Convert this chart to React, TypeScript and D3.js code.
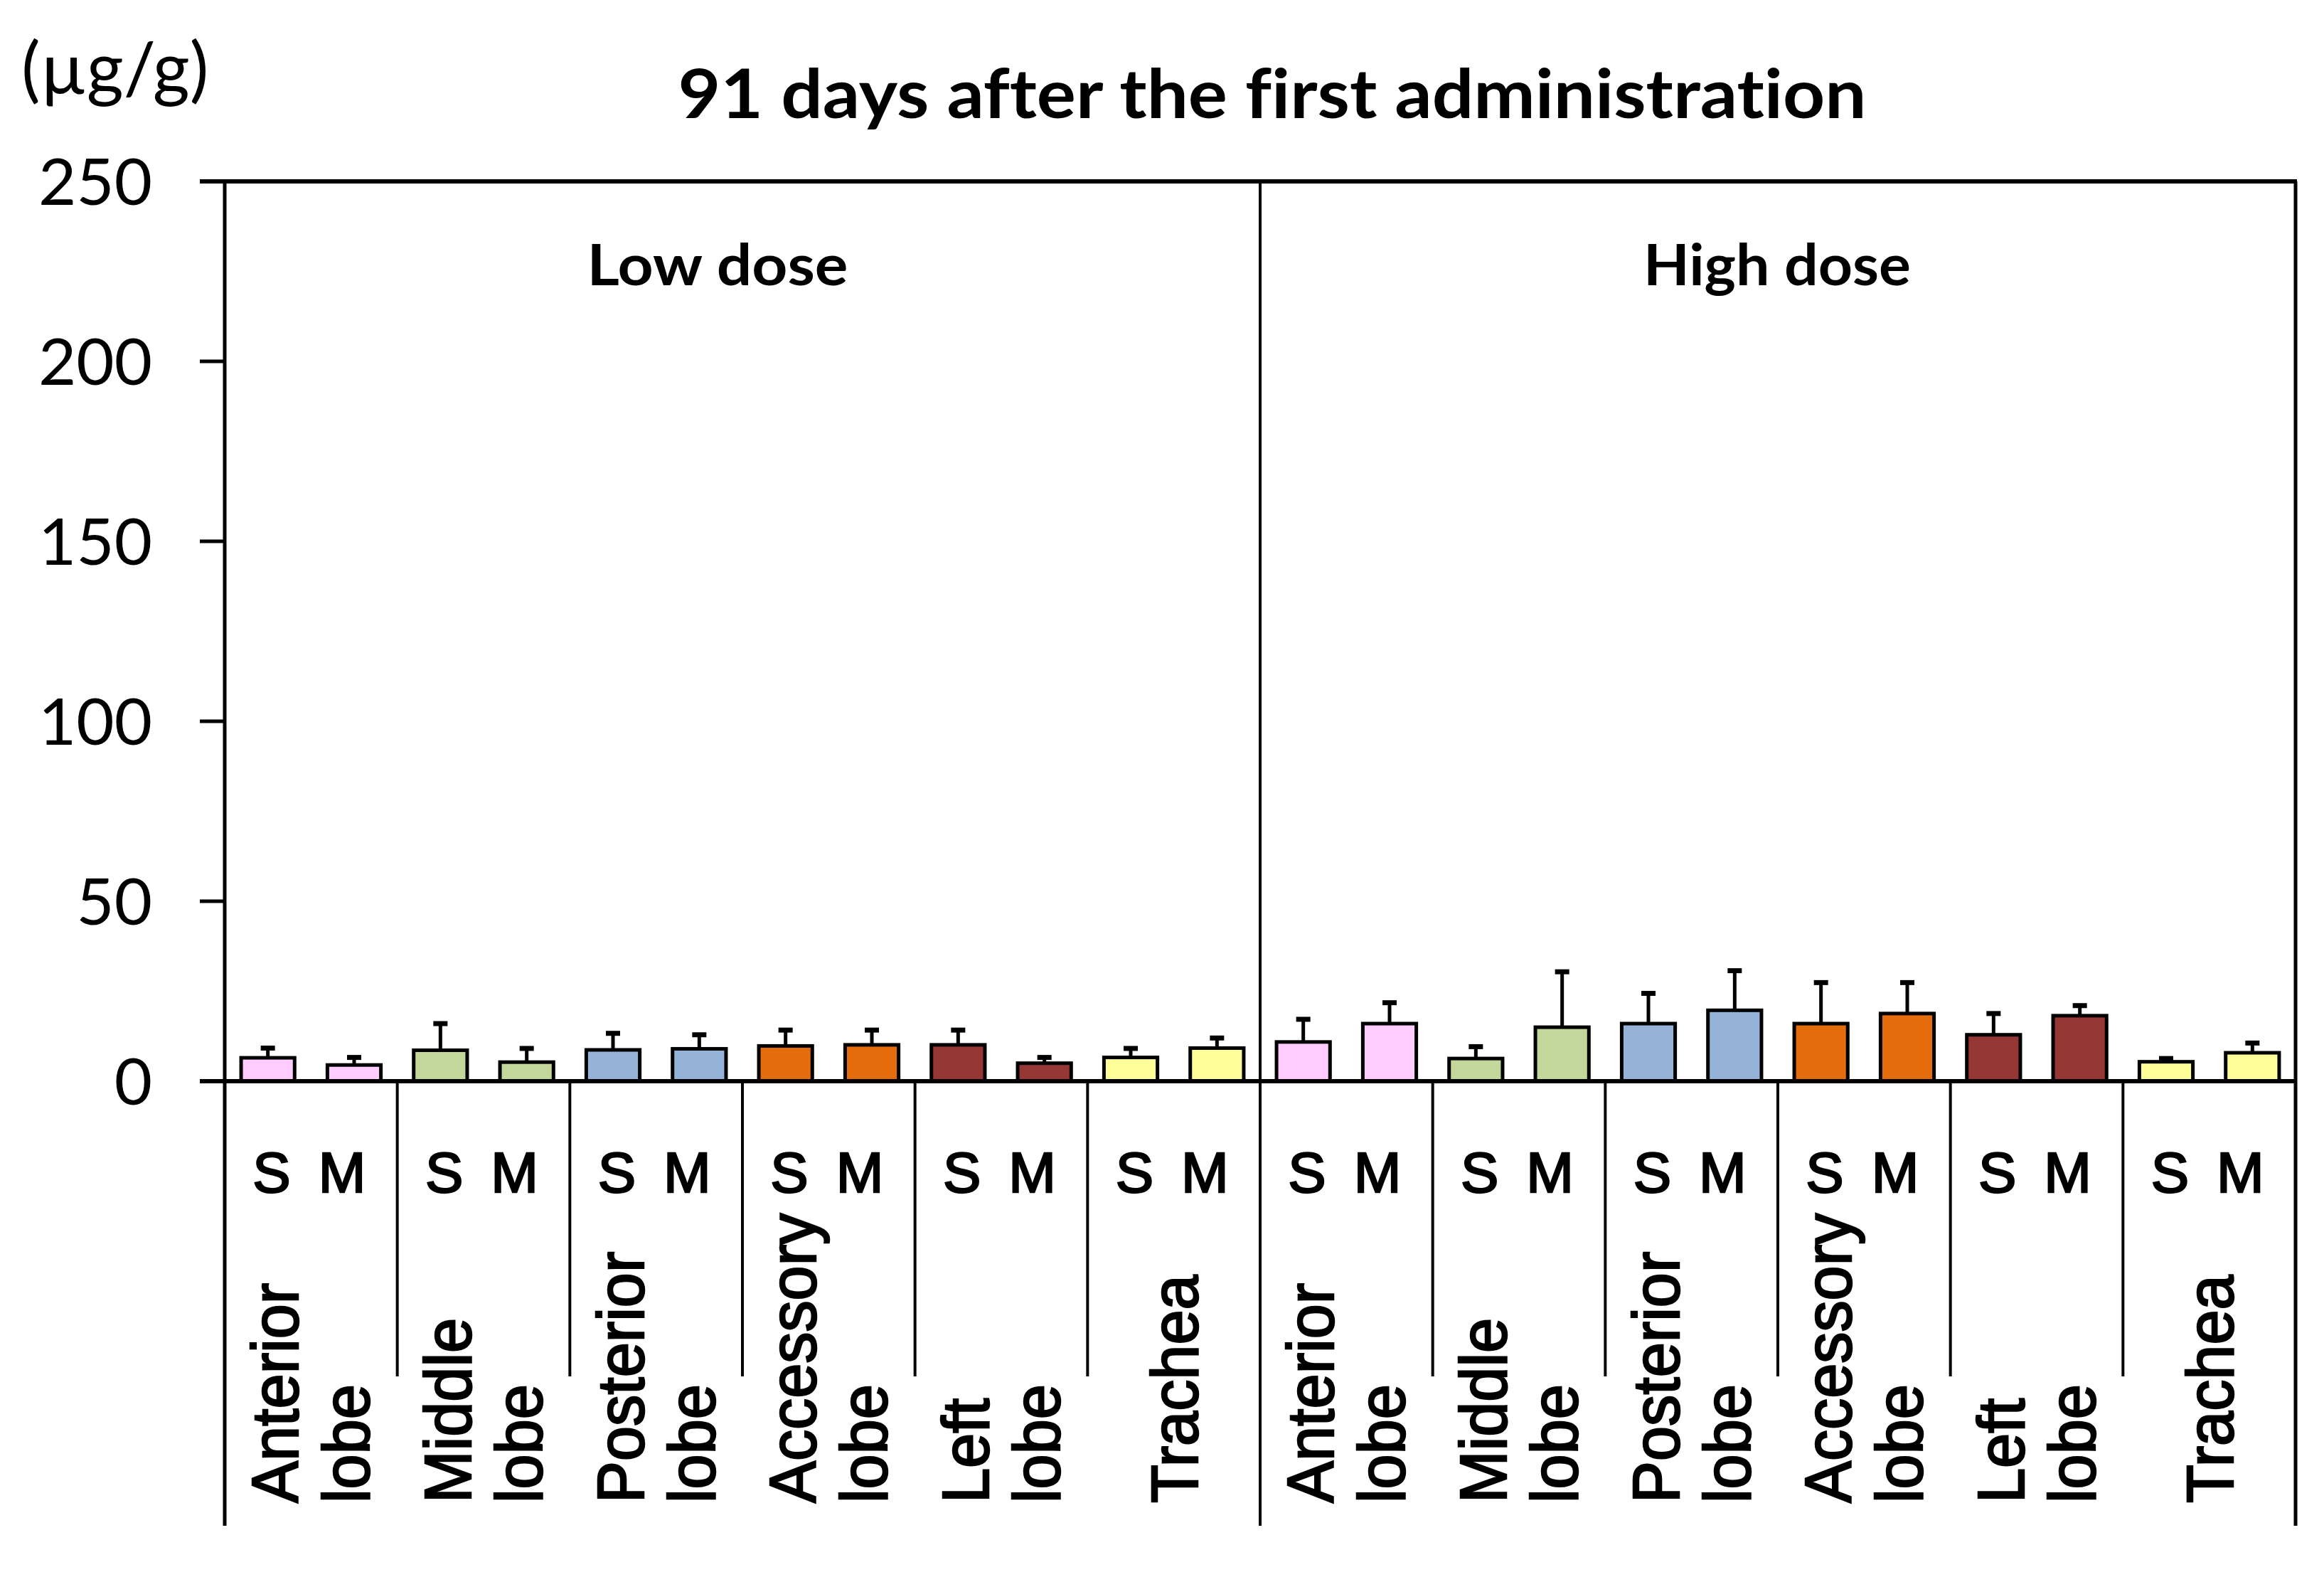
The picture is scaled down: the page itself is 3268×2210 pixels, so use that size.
import React from "react";
import * as d3 from "d3";

const W = 3268;
const H = 2210;

const title = "91 days after the first administration";
const unitLabel = "(µg/g)";
const doses = ["Low dose", "High dose"];
const organs = ["Anterior lobe", "Middle lobe", "Posterior lobe", "Accessory lobe", "Left lobe", "Trachea"];
const organLines = [["Anterior", "lobe"], ["Middle", "lobe"], ["Posterior", "lobe"], ["Accessory", "lobe"], ["Left", "lobe"], ["Trachea"]];
const subgroups = ["S", "M"];
const organColors = ["#FFCCFF", "#C4D79B", "#95B3D7", "#E46C0A", "#953735", "#FFFF99"];
const yTicks = [0, 50, 100, 150, 200, 250];

// mean values [organ][S, M]
const lowMean = [[6.5, 4.5], [8.6, 5.3], [8.7, 9.0], [9.8, 10.1], [10.1, 5.0], [6.6, 9.2]];
const lowSD = [[2.7, 2.1], [7.4, 3.8], [4.6, 3.9], [4.4, 4.1], [4.1, 1.6], [2.5, 2.8]];
const highMean = [[10.9, 16.0], [6.3, 15.0], [16.0, 19.7], [16.0, 18.8], [12.9, 18.2], [5.4, 7.9]];
const highSD = [[6.3, 5.8], [3.3, 15.4], [8.4, 11.0], [11.4, 8.6], [5.9, 2.8], [0.9, 2.7]];

export default function App() {
  const left = 316, right = 3228, top = 255, zeroY = 1520, boxBottom = 2145, sepBottom = 1935;
  const y = d3.scaleLinear().domain([0, 250]).range([zeroY, top]);
  const groupKeys = doses.flatMap((d, di) => organs.map((o, oi) => `${di}-${oi}`));
  const xg = d3.scaleBand().domain(groupKeys).range([left, right]).padding(0);
  const xs = d3.scaleBand().domain(subgroups).range([0, xg.bandwidth()]).paddingInner(0.38).paddingOuter(0.19);
  const bw = xg.bandwidth();
  const means = [lowMean, highMean];
  const sds = [lowSD, highSD];
  const divider = xg(`1-0`) as number;

  const bars: any[] = [];
  doses.forEach((d, di) => {
    organs.forEach((o, oi) => {
      subgroups.forEach((s, si) => {
        const gx = xg(`${di}-${oi}`) as number;
        const x0 = gx + (xs(s) as number);
        const m = means[di][oi][si];
        const e = m + sds[di][oi][si];
        bars.push({ key: `${di}-${oi}-${s}`, x0, w: xs.bandwidth(), m, e, color: organColors[oi] });
      });
    });
  });

  const sans = "'Liberation Sans', Arial, sans-serif";
  const cal = "Lato, 'Open Sans', sans-serif";
  const noLig = { fontVariantLigatures: "none" as const, fontFeatureSettings: "'liga' 0, 'clig' 0" };

  return (
    <svg width={W} height={H} viewBox={`0 0 ${W} ${H}`} style={{ position: "absolute", left: 0, top: 0, background: "#fff" }}>
      <rect x={0} y={0} width={W} height={H} fill="#fff" />
      <text x={30} y={132} fontFamily={cal} fontSize={100} fill="#000" style={noLig}>{unitLabel}</text>
      <text x={1789} y={166} fontFamily={cal} fontWeight="bold" fontSize={96} textAnchor="middle" textLength={1671} lengthAdjust="spacingAndGlyphs" fill="#000" style={noLig}>{title}</text>
      <text x={1009} y={401} fontFamily={cal} fontWeight="bold" fontSize={80} textAnchor="middle" textLength={367} lengthAdjust="spacingAndGlyphs" fill="#000" style={noLig}>{doses[0]}</text>
      <text x={2499} y={401} fontFamily={cal} fontWeight="bold" fontSize={80} textAnchor="middle" textLength={376} lengthAdjust="spacingAndGlyphs" fill="#000" style={noLig}>{doses[1]}</text>

      {yTicks.map((t) => (
        <g key={t}>
          <line x1={281} x2={left} y1={y(t)} y2={y(t)} stroke="#000" strokeWidth={5} />
          <text x={214} y={y(t) + 33} fontFamily={cal} fontSize={92} textAnchor="end" fill="#000">{t}</text>
        </g>
      ))}

      {bars.map((b) => (
        <g key={b.key}>
          <line x1={b.x0 + b.w / 2} x2={b.x0 + b.w / 2} y1={y(b.m)} y2={y(b.e)} stroke="#000" strokeWidth={5} />
          <line x1={b.x0 + b.w / 2 - 10} x2={b.x0 + b.w / 2 + 10} y1={y(b.e)} y2={y(b.e)} stroke="#000" strokeWidth={7} />
          <rect x={b.x0} y={y(b.m)} width={b.w} height={zeroY - y(b.m)} fill={b.color} stroke="#000" strokeWidth={5} />
        </g>
      ))}

      <line x1={281} x2={right + 2} y1={top} y2={top} stroke="#000" strokeWidth={6} />
      <line x1={281} x2={right + 2} y1={zeroY} y2={zeroY} stroke="#000" strokeWidth={6} />
      <line x1={left} x2={left} y1={top} y2={boxBottom} stroke="#000" strokeWidth={5} />
      <line x1={divider} x2={divider} y1={top} y2={boxBottom} stroke="#000" strokeWidth={4} />
      <line x1={right} x2={right} y1={top} y2={boxBottom} stroke="#000" strokeWidth={5} />

      {groupKeys.map((k, i) => {
        const gx = xg(k) as number;
        const oi = i % organs.length;
        const lines = organLines[oi];
        const c = gx + bw / 2;
        const basesX = lines.length === 2 ? [c - 18, c + 82] : [c + 33];
        return (
          <g key={k}>
            {oi > 0 && <line x1={gx} x2={gx} y1={zeroY} y2={sepBottom} stroke="#000" strokeWidth={4} />}
            <text x={gx + 66} y={1676} fontFamily={sans} fontSize={80} textAnchor="middle" fill="#000" stroke="#000" strokeWidth={2.5}>{subgroups[0]}</text>
            <text x={gx + 165} y={1676} fontFamily={sans} fontSize={80} textAnchor="middle" fill="#000" stroke="#000" strokeWidth={2.5}>{subgroups[1]}</text>
            {lines.map((ln, li) => (
              <text key={li} transform={`translate(${basesX[li]},2113) rotate(-90) scale(0.96,1)`} fontFamily={sans} fontSize={92} fill="#000" stroke="#000" strokeWidth={2.5}>{ln}</text>
            ))}
          </g>
        );
      })}
    </svg>
  );
}
